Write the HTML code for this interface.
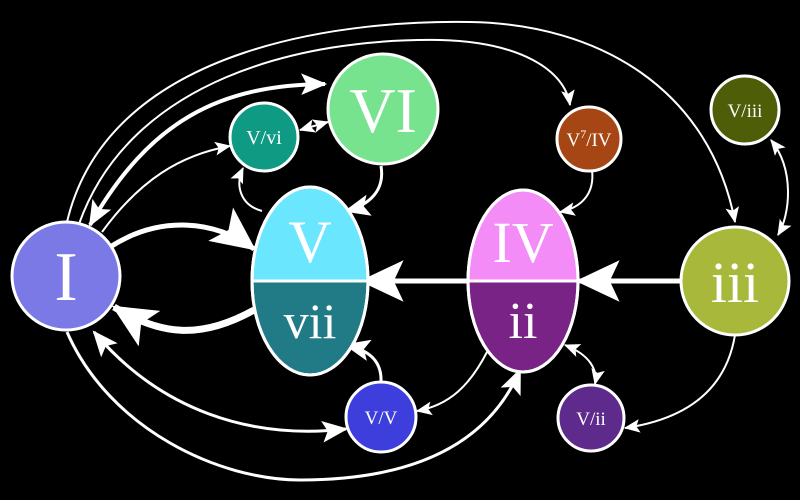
<!DOCTYPE html>
<html><head><meta charset="utf-8"><style>
html,body{margin:0;padding:0;background:#000;}
svg{display:block;}
text{font-family:"Liberation Serif",serif;fill:#fff;text-anchor:middle;}
</style></head><body>
<svg width="800" height="500" viewBox="0 0 800 500">
<defs>
<marker id="aL" markerUnits="userSpaceOnUse" markerWidth="44" markerHeight="44" refX="34" refY="17" orient="auto-start-reverse" viewBox="0 0 36 34"><path d="M0,0 L36,17 L0,34 L8,17 Z" fill="#fff"/></marker>
<marker id="aM" markerUnits="userSpaceOnUse" markerWidth="26" markerHeight="26" refX="22" refY="10" orient="auto-start-reverse" viewBox="0 0 24 20"><path d="M0,0 L24,10 L0,20 L5,10 Z" fill="#fff"/></marker>
<marker id="aS" markerUnits="userSpaceOnUse" markerWidth="16" markerHeight="16" refX="13" refY="6" orient="auto-start-reverse" viewBox="0 0 14 12"><path d="M0,0 L14,6 L0,12 L3,6 Z" fill="#fff"/></marker>
</defs>
<g fill="none" stroke="#fff">
<path d="M67,222 C110,40 360,20 470,22 C600,24 710,90 735,222" stroke-width="2" marker-end="url(#aS)"/>
<path d="M79,224 C130,80 300,38 440,40 C520,42 565,70 570,105" stroke-width="2" marker-end="url(#aS)"/>
<path d="M90,225 C150,120 220,85 325,84" stroke-width="4" marker-start="url(#aM)" marker-end="url(#aM)"/>
<path d="M102,232 C140,180 180,155 230,146" stroke-width="2" marker-end="url(#aS)"/>
<path d="M300,130 L328,122" stroke-width="2" marker-start="url(#aS)" marker-end="url(#aS)"/>
<path d="M262,211 C240,205 235,185 243,168" stroke-width="2" marker-end="url(#aS)"/>
<path d="M381,166 C385,190 370,205 346,211" stroke-width="3" marker-end="url(#aM)"/>
<path d="M110,247 C160,215 215,220 254,249" stroke-width="5" marker-end="url(#aL)"/>
<path d="M254,310 C200,340 160,335 114,307" stroke-width="7" marker-end="url(#aL)"/>
<path d="M468,281 L362,281" stroke-width="5" marker-end="url(#aL)"/>
<path d="M681,281 L578,281" stroke-width="5" marker-end="url(#aL)"/>
<path d="M592,170 C595,195 580,208 560,212" stroke-width="2" marker-end="url(#aS)"/>
<path d="M771,140 C795,170 790,215 778,235" stroke-width="2" marker-start="url(#aS)" marker-end="url(#aS)"/>
<path d="M735,335 C725,395 680,420 625,428" stroke-width="2" marker-end="url(#aS)"/>
<path d="M565,345 C590,355 598,370 595,384" stroke-width="2" marker-start="url(#aS)" marker-end="url(#aS)"/>
<path d="M487,352 C470,385 450,405 417,411" stroke-width="2" marker-end="url(#aS)"/>
<path d="M381,382 C382,360 368,350 346,345" stroke-width="3" marker-end="url(#aM)"/>
<path d="M94,332 C160,410 250,440 346,429" stroke-width="3" marker-start="url(#aM)" marker-end="url(#aM)"/>
<path d="M67,332 C110,430 220,480 300,480 C420,480 490,440 520,370" stroke-width="3" marker-end="url(#aM)"/>
</g>
<g stroke="#fff" stroke-width="3">
<g><circle cx="66" cy="276" r="54" fill="#7b79e6"/><text x="66" y="300" font-size="70" stroke="none">I</text></g>
<g><circle cx="383" cy="109" r="55" fill="#78e38f"/><text x="383" y="132" font-size="64" stroke="none">VI</text></g>
<g><circle cx="264" cy="137" r="34" fill="#0f9a84"/><text x="264" y="144" font-size="20" stroke="none">V/vi</text></g>
<g><circle cx="589" cy="139" r="32" fill="#a54614"/><text x="589" y="146" font-size="19" stroke="none">V<tspan font-size="12" dy="-8">7</tspan><tspan dy="8">/IV</tspan></text></g>
<g><circle cx="745" cy="110" r="34" fill="#4d5d08"/><text x="745" y="117" font-size="19" stroke="none">V/iii</text></g>
<g><circle cx="381" cy="417" r="35" fill="#3e3edd"/><text x="381" y="424" font-size="19" stroke="none">V/V</text></g>
<g><circle cx="591" cy="418" r="33" fill="#5e2a8c"/><text x="591" y="425" font-size="19" stroke="none">V/ii</text></g>
<g><circle cx="735" cy="281" r="54" fill="#a8b83b"/><text x="735" y="302" font-size="58" stroke="none">iii</text></g>
<g>
<path d="M252,281 A58,94 0 0 1 368,281 Z" fill="#6ae6ff"/>
<path d="M252,281 A58,94 0 0 0 368,281 Z" fill="#217b86"/>
<ellipse cx="310" cy="281" rx="58" ry="94" fill="none"/>
<line x1="252" y1="281" x2="368" y2="281"/>
<text x="310" y="262" font-size="60" stroke="none">V</text>
<text x="310" y="338" font-size="50" stroke="none">vii</text></g>
<g>
<path d="M468,281 A55,91 0 0 1 578,281 Z" fill="#f48cf7"/>
<path d="M468,281 A55,91 0 0 0 578,281 Z" fill="#7a2386"/>
<ellipse cx="523" cy="281" rx="55" ry="91" fill="none"/>
<line x1="468" y1="281" x2="578" y2="281"/>
<text x="523" y="262" font-size="58" stroke="none">IV</text>
<text x="523" y="338" font-size="52" stroke="none">ii</text></g>
</g>
</svg>
</body></html>
